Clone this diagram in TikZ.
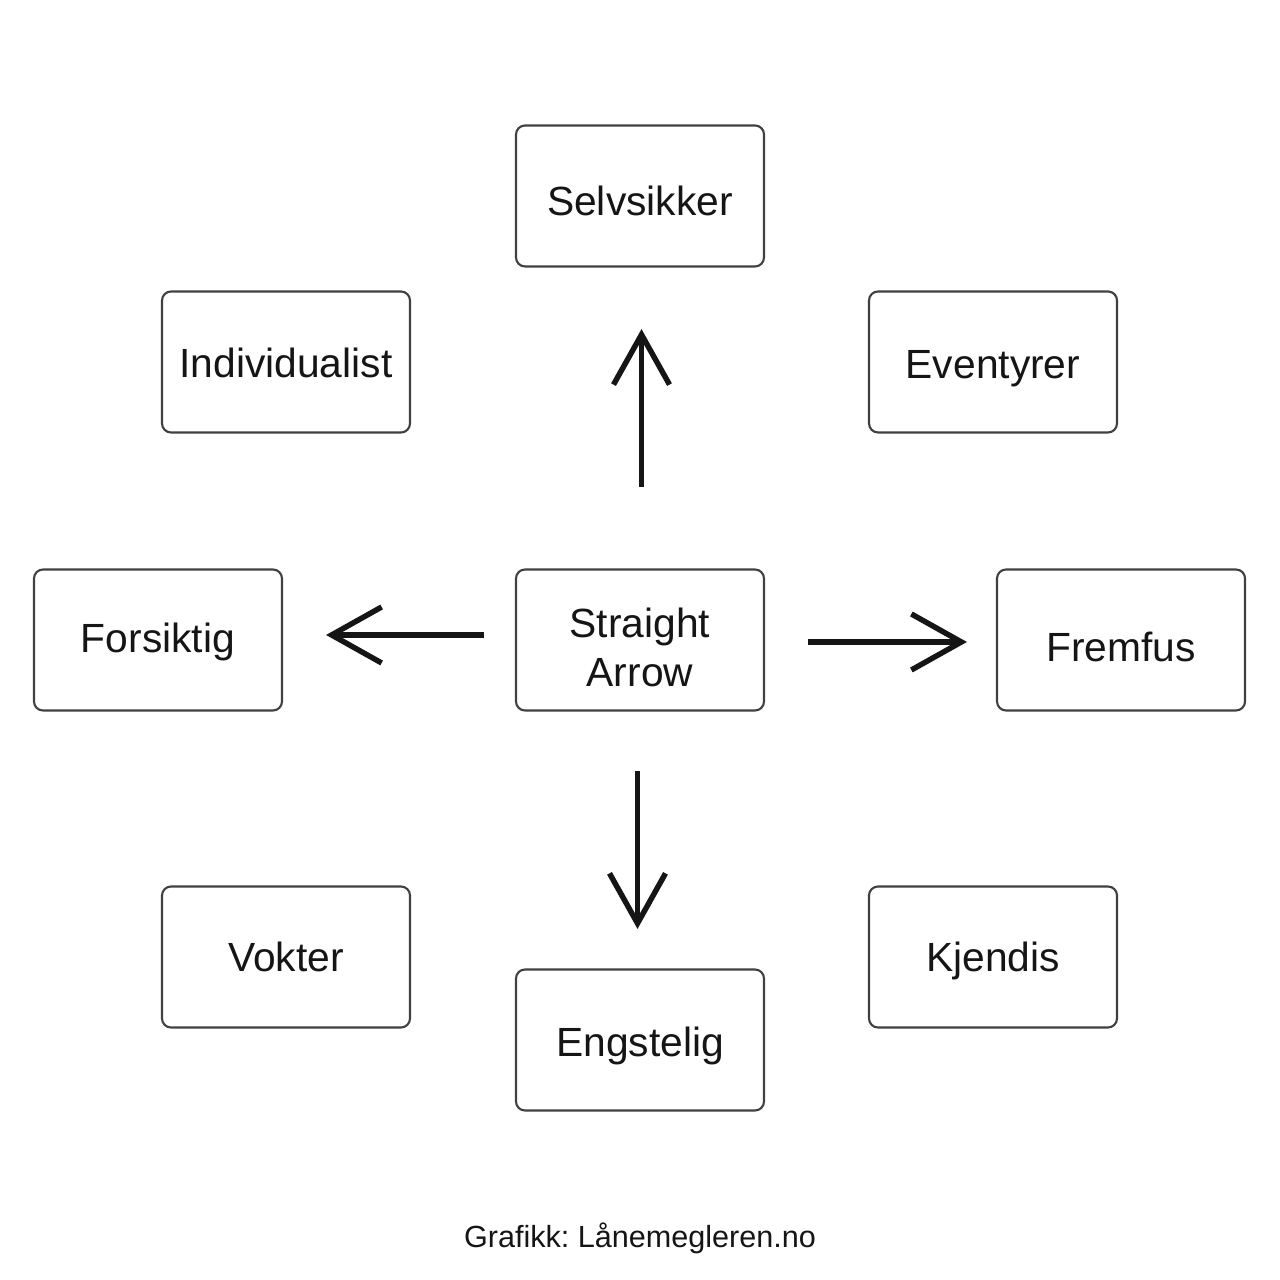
\documentclass[tikz,border=0pt]{standalone}
\usepackage{fontspec}
\setmainfont{Liberation Sans}
\frenchspacing
\usetikzlibrary{arrows.meta}
\definecolor{boxline}{HTML}{404040}
\definecolor{ink}{HTML}{151515}
\tikzstyle{box} = [rectangle, rounded corners=0.09cm, draw=boxline, line width=0.6pt, minimum width=2.48cm, minimum height=1.41cm, inner sep=0pt, align=center, text=ink, text depth=0cm, font=\fontsize{11.6}{14.2}\selectfont]
\tikzstyle{pil} = [line width=1.55pt, draw=ink, -{Straight Barb[length=5mm, width=5.6mm, line width=1.55pt]}]

\begin{document}
\begin{tikzpicture}
                \useasboundingbox (0, 0) rectangle (12.8, 12.8);
                \node [box, text height=0.40cm] (selvsikker) at (6.40, 10.84) {Selvsikker};
                \node [box, text height=0.32cm] (individualist) at (2.86, 9.18) {Individualist};
                \node [box, text height=0.34cm] (eventyrer) at (9.93, 9.18) {Eventyrer};
                \node [box, text height=0.26cm] (forsiktig) at (1.58, 6.40) {Forsiktig};
                \node [box, text height=0.94cm] (straight) at (6.40, 6.40) {Straight\\Arrow};
                \node [box, text height=0.44cm] (fremfus) at (11.21, 6.40) {Fremfus};
                \node [box, text height=0.30cm] (vokter) at (2.86, 3.23) {Vokter};
                \node [box, text height=0.30cm] (kjendis) at (9.93, 3.23) {Kjendis};
                \node [box, text height=0.34cm] (engstelig) at (6.40, 2.40) {Engstelig};
                \node [text=ink, font=\fontsize{8.7}{10}\selectfont] (grafikk) at (6.40, 0.42) {Grafikk: Lånemegleren.no};
                \draw [pil, shorten <=0.815cm, shorten >=0.615cm] ([xshift=0.015cm]straight.north) -- ([xshift=0.015cm]selvsikker.south);
                \draw [pil, shorten <=0.31cm, shorten >=0.43cm] ([yshift=0.05cm]straight.west) -- ([yshift=0.05cm]forsiktig.east);
                \draw [pil, shorten <=0.43cm, shorten >=0.29cm] ([yshift=-0.02cm]straight.east) -- ([yshift=-0.02cm]fremfus.west);
                \draw [pil, shorten <=0.595cm, shorten >=0.395cm] ([xshift=-0.025cm]straight.south) -- ([xshift=-0.025cm]engstelig.north);
            \end{tikzpicture}
\end{document}
